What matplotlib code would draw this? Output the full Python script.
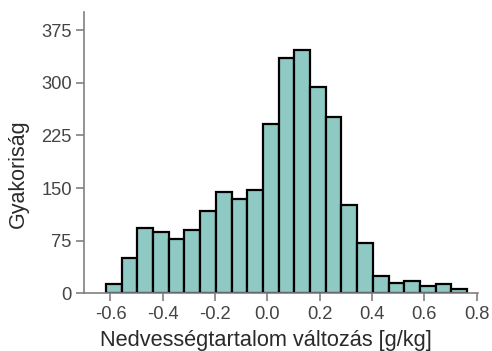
import numpy as np
import matplotlib
matplotlib.use("Agg")
import matplotlib.pyplot as plt

bin_start = -0.617
bin_width = 0.06
counts = [13, 51, 93, 88, 77, 90, 117, 144, 135, 147, 241, 336, 347, 294, 252,
          126, 71, 25, 15, 17, 10, 13, 6]
x_ticks = [-0.6, -0.4, -0.2, 0.0, 0.2, 0.4, 0.6, 0.8]
y_ticks = [0, 75, 150, 225, 300, 375]

plt.rcParams['font.family'] = ['Liberation Sans', 'DejaVu Sans']

fig = plt.figure(figsize=(4.92, 3.51), dpi=100)
ax = fig.add_axes([0.1713, 0.1644, 0.8002, 0.8014])

edges = bin_start + bin_width * np.arange(len(counts))
ax.bar(edges, counts, width=bin_width, align='edge', color='#8fc9c3',
       edgecolor='black', linewidth=1.6)

ax.set_xlim(-0.70, 0.805)
ax.set_ylim(0, 401)
ax.set_xticks(x_ticks)
ax.set_xticklabels([f"{t:.1f}" for t in x_ticks])
ax.set_yticks(y_ticks)
for s in ['top', 'right']:
    ax.spines[s].set_visible(False)
for s in ['left', 'bottom']:
    ax.spines[s].set_color('#808080')
    ax.spines[s].set_linewidth(1.2)
ax.tick_params(colors='#808080', labelcolor='#444444', labelsize=13.2, length=6, width=1.2, pad=3)
ax.set_xlabel('Nedvességtartalom változás [g/kg]', fontsize=15.7, color='#2a2a2a')
ax.set_ylabel('Gyakoriság', fontsize=15.5, color='#2a2a2a')
ax.xaxis.set_label_coords(0.4615, -0.129)
ax.yaxis.set_label_coords(-0.14, 0.425)

fig.savefig('out.png', dpi=100)
